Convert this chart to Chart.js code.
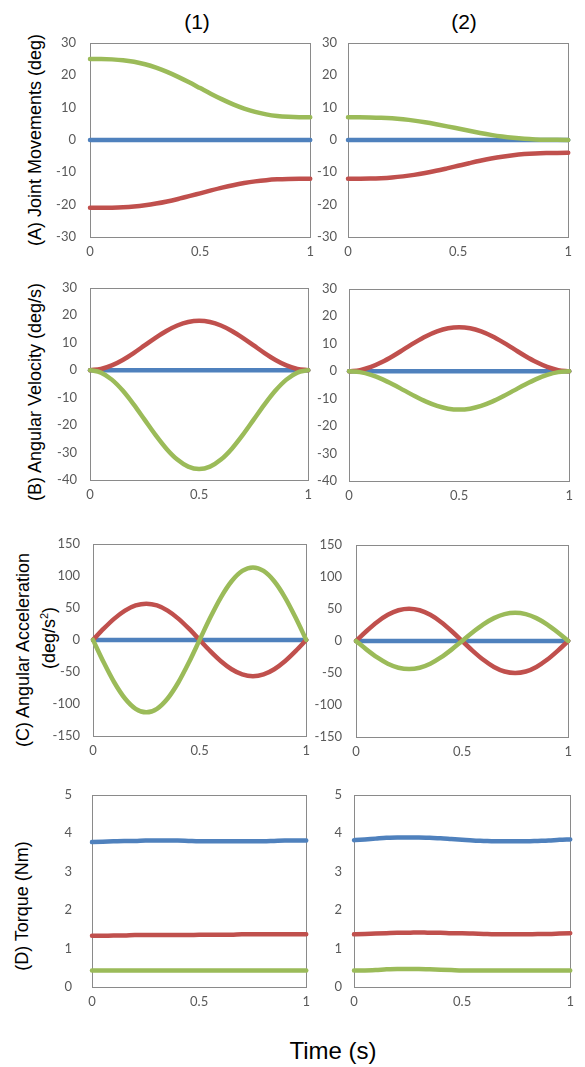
<!DOCTYPE html>
<html>
<head>
<meta charset="utf-8">
<script src="https://cdn.jsdelivr.net/npm/chart.js@4"></script>
<style>
  html, body { margin: 0; padding: 0; background: #fff; }
  body { width: 585px; height: 1067px; position: relative; overflow: hidden; font-family: "Liberation Sans", Arial, sans-serif; color: #000; }
  canvas { position: absolute; }
  .t { position: absolute; white-space: nowrap; line-height: 1; }
  .rot { transform: translate(-50%, -50%) rotate(-90deg); font-size: 18px; }
  .col { transform: translate(-50%, -50%); font-size: 21px; }
  sup { font-size: 11px; vertical-align: 7px; line-height: 0; }
</style>
</head>
<body>
<div class="t col" style="left:197px; top:21px;">(1)</div>
<div class="t col" style="left:464px; top:21px;">(2)</div>
<div class="t rot" style="left:35px; top:140px;">(A) Joint Movements (deg)</div>
<div class="t rot" style="left:35px; top:392px;">(B) Angular Velocity (deg/s)</div>
<div class="t rot" style="left:23px; top:650px;">(C) Angular Acceleration</div>
<div class="t rot" style="left:49px; top:638px;">(deg/s<sup>2</sup>)</div>
<div class="t rot" style="left:22px; top:906px;">(D) Torque (Nm)</div>
<div class="t" style="left:333px; top:1051px; transform: translate(-50%,-50%); font-size:24px;">Time (s)</div>

<script>
// ---- data ----
const TIME = [0, 0.05, 0.1, 0.15, 0.2, 0.25, 0.3, 0.35, 0.4, 0.45, 0.5, 0.55, 0.6, 0.65, 0.7, 0.75, 0.8, 0.85, 0.9, 0.95, 1];
const X_TICKS = [0, 0.5, 1];

const ZERO = [0,0,0,0,0,0,0,0,0,0,0,0,0,0,0,0,0,0,0,0,0];

// (A) joint movements
const A1_blue  = ZERO;
const A1_red   = [-21, -20.99, -20.94, -20.81, -20.56, -20.18, -19.66, -19.01, -18.24, -17.39, -16.5, -15.61, -14.76, -13.99, -13.34, -12.82, -12.44, -12.19, -12.06, -12.01, -12];
const A1_green = [25, 24.99, 24.88, 24.62, 24.12, 23.36, 22.32, 21.02, 19.48, 17.79, 16, 14.21, 12.52, 10.98, 9.68, 8.64, 7.88, 7.38, 7.12, 7.01, 7];
const A2_blue  = ZERO;
const A2_red   = [-12, -11.99, -11.95, -11.83, -11.61, -11.27, -10.81, -10.23, -9.55, -8.79, -8, -7.21, -6.45, -5.77, -5.19, -4.73, -4.39, -4.17, -4.05, -4.01, -4];
const A2_green = [7, 6.99, 6.95, 6.85, 6.66, 6.36, 5.96, 5.45, 4.85, 4.19, 3.5, 2.81, 2.15, 1.55, 1.04, 0.64, 0.34, 0.15, 0.05, 0.01, 0];

// (B) angular velocity
const B1_blue  = ZERO;
const B1_red   = [0, 0.44, 1.72, 3.71, 6.22, 9, 11.78, 14.29, 16.28, 17.56, 18, 17.56, 16.28, 14.29, 11.78, 9, 6.22, 3.71, 1.72, 0.44, 0];
const B1_green = [0, -0.88, -3.44, -7.42, -12.44, -18, -23.56, -28.58, -32.56, -35.12, -36, -35.12, -32.56, -28.58, -23.56, -18, -12.44, -7.42, -3.44, -0.88, 0];
const B2_blue  = ZERO;
const B2_red   = [0, 0.39, 1.53, 3.3, 5.53, 8, 10.47, 12.7, 14.47, 15.61, 16, 15.61, 14.47, 12.7, 10.47, 8, 5.53, 3.3, 1.53, 0.39, 0];
const B2_green = [0, -0.34, -1.34, -2.89, -4.84, -7, -9.16, -11.11, -12.66, -13.66, -14, -13.66, -12.66, -11.11, -9.16, -7, -4.84, -2.89, -1.34, -0.34, 0];

// (C) angular acceleration
const C1_blue  = ZERO;
const C1_red   = [0, 17.47, 33.24, 45.75, 53.78, 56.55, 53.78, 45.75, 33.24, 17.47, 0, -17.47, -33.24, -45.75, -53.78, -56.55, -53.78, -45.75, -33.24, -17.47, 0];
const C1_green = [0, -34.95, -66.48, -91.5, -107.57, -113.1, -107.57, -91.5, -66.48, -34.95, 0, 34.95, 66.48, 91.5, 107.57, 113.1, 107.57, 91.5, 66.48, 34.95, 0];
const C2_blue  = ZERO;
const C2_red   = [0, 15.53, 29.55, 40.67, 47.81, 50.27, 47.81, 40.67, 29.55, 15.53, 0, -15.53, -29.55, -40.67, -47.81, -50.27, -47.81, -40.67, -29.55, -15.53, 0];
const C2_green = [0, -13.59, -25.85, -35.58, -41.83, -43.98, -41.83, -35.58, -25.85, -13.59, 0, 13.59, 25.85, 35.58, 41.83, 43.98, 41.83, 35.58, 25.85, 13.59, 0];

// (D) torque
const D1_blue  = [3.77, 3.78, 3.79, 3.8, 3.8, 3.81, 3.81, 3.81, 3.81, 3.8, 3.79, 3.79, 3.79, 3.79, 3.79, 3.79, 3.79, 3.8, 3.81, 3.81, 3.81];
const D1_red   = [1.33, 1.33, 1.34, 1.34, 1.35, 1.35, 1.35, 1.35, 1.35, 1.35, 1.36, 1.36, 1.36, 1.36, 1.37, 1.37, 1.37, 1.37, 1.37, 1.37, 1.37];
const D1_green = [0.43, 0.43, 0.43, 0.43, 0.43, 0.43, 0.43, 0.43, 0.43, 0.43, 0.43, 0.43, 0.43, 0.43, 0.43, 0.43, 0.43, 0.43, 0.43, 0.43, 0.43];
const D2_blue  = [3.82, 3.84, 3.86, 3.88, 3.89, 3.89, 3.89, 3.88, 3.87, 3.85, 3.83, 3.81, 3.8, 3.79, 3.79, 3.79, 3.79, 3.8, 3.81, 3.83, 3.84];
const D2_red   = [1.37, 1.38, 1.39, 1.4, 1.41, 1.41, 1.42, 1.41, 1.41, 1.4, 1.4, 1.39, 1.38, 1.37, 1.37, 1.37, 1.37, 1.38, 1.38, 1.39, 1.4];
const D2_green = [0.43, 0.43, 0.44, 0.46, 0.47, 0.47, 0.47, 0.46, 0.45, 0.44, 0.43, 0.43, 0.43, 0.43, 0.43, 0.43, 0.43, 0.43, 0.43, 0.43, 0.43];

// y-axis ranges / tick steps per row
const Y_A = { min: -30, max: 30, step: 10 };
const Y_B = { min: -40, max: 30, step: 10 };
const Y_C = { min: -150, max: 150, step: 50 };
const Y_D = { min: 0, max: 5, step: 1 };

// ---- styling / layout ----
const COLORS = { blue: '#4F81BD', red: '#C0504D', green: '#9BBB59' };
const YW = 60, XH = 30;

const panels = [
  { L: 90,  T: 43,  W: 220, H: 194, pad: 14, y: Y_A, s: [A1_blue, A1_red, A1_green] },
  { L: 348, T: 43,  W: 220, H: 194, pad: 11, y: Y_A, s: [A2_blue, A2_red, A2_green] },
  { L: 90,  T: 288, W: 218, H: 192, pad: 13, y: Y_B, s: [B1_blue, B1_red, B1_green] },
  { L: 349, T: 289, W: 220, H: 192, pad: 12, y: Y_B, s: [B2_blue, B2_red, B2_green] },
  { L: 93,  T: 544, W: 213, H: 192, pad: 13, y: Y_C, s: [C1_blue, C1_red, C1_green] },
  { L: 356, T: 545, W: 212, H: 192, pad: 14, y: Y_C, s: [C2_blue, C2_red, C2_green] },
  { L: 92,  T: 795, W: 214, H: 192, pad: 20, y: Y_D, s: [D1_blue, D1_red, D1_green] },
  { L: 354, T: 795, W: 216, H: 192, pad: 12, y: Y_D, s: [D2_blue, D2_red, D2_green] }
];

const framePlugin = {
  id: 'frame',
  beforeDatasetsDraw(chart) {
    const a = chart.chartArea, ctx = chart.ctx;
    ctx.save();
    ctx.strokeStyle = '#8a8a8a';
    ctx.lineWidth = 1;
    ctx.strokeRect(Math.round(a.left) + 0.5, Math.round(a.top) + 0.5, Math.round(a.right - a.left), Math.round(a.bottom - a.top));
    ctx.restore();
  }
};

function toPts(arr) { return arr.map((v, i) => ({ x: TIME[i], y: v })); }

function ds(arr, color) {
  return {
    data: toPts(arr),
    borderColor: color,
    backgroundColor: color,
    borderWidth: 4.5,
    borderCapStyle: 'round',
    borderJoinStyle: 'round',
    pointRadius: 0,
    cubicInterpolationMode: 'monotone',
    clip: false
  };
}

const tickFont = { family: 'Lato, "Open Sans", sans-serif', size: 13 };

function build(p, cw, ch, left, top) {
  const cv = document.createElement('canvas');
  cv.width = cw; cv.height = ch;
  cv.style.width = cw + 'px'; cv.style.height = ch + 'px';
  cv.style.left = left + 'px';
  cv.style.top = top + 'px';
  document.body.appendChild(cv);
  const [b, r, g] = p.s;
  const chart = new Chart(cv.getContext('2d'), {
    type: 'line',
    data: {
      // first dataset is drawn on top: green over red over blue
      datasets: [ds(g, COLORS.green), ds(r, COLORS.red), ds(b, COLORS.blue)]
    },
    options: {
      responsive: false,
      maintainAspectRatio: false,
      animation: false,
      devicePixelRatio: 1,
      layout: { padding: { left: 0, top: 4, right: 4, bottom: 0 } },
      plugins: { legend: { display: false }, tooltip: { enabled: false }, title: { display: false } },
      scales: {
        x: {
          type: 'linear', min: 0, max: 1,
          afterFit(s) { s.height = XH; },
          afterBuildTicks(s) { s.ticks = X_TICKS.map(v => ({ value: v })); },
          grid: { display: false, drawTicks: false },
          border: { display: false },
          ticks: { color: '#595959', font: tickFont, padding: 7, maxRotation: 0, autoSkip: false, callback: v => String(v) }
        },
        y: {
          type: 'linear', min: p.y.min, max: p.y.max,
          afterFit(s) { s.width = YW; },
          grid: { display: false, drawTicks: false },
          border: { display: false },
          ticks: { color: '#595959', font: tickFont, padding: p.pad, stepSize: p.y.step, autoSkip: false }
        }
      }
    },
    plugins: [framePlugin]
  });
  return { chart, cv };
}

panels.forEach(p => {
  // first pass: measure how the library lays out the plot area inside the canvas
  const cw0 = YW + p.W + 20, ch0 = 20 + p.H + XH;
  const probe = build(p, cw0, ch0, 0, 0);
  const a = probe.chart.chartArea;
  const offL = a.left, offT = a.top;
  const extraW = cw0 - (a.right - a.left), extraH = ch0 - (a.bottom - a.top);
  probe.chart.destroy();
  probe.cv.remove();
  // second pass: sized so the plot area lands exactly on the reference frame
  build(p, Math.round(p.W + extraW), Math.round(p.H + extraH), Math.round(p.L - offL), Math.round(p.T - offT));
});
</script>
</body>
</html>
